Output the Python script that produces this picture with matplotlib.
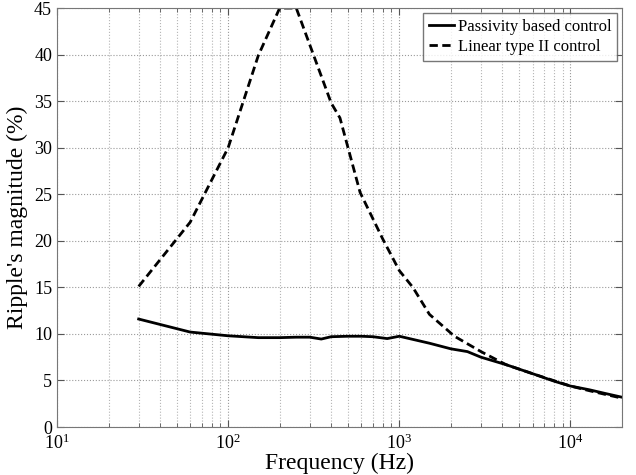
import numpy as np
import matplotlib.pyplot as plt
from matplotlib.ticker import LogLocator, NullFormatter

# Frequency (Hz) and ripple magnitude (%)
freq_pbc = [30, 60, 100, 150, 200, 250, 300, 350, 400, 500, 600, 700, 850, 1000,
            1500, 2000, 2500, 3000, 4200, 6300, 8100, 10000, 12900, 16000, 20000]
ripple_pbc = [11.6, 10.2, 9.8, 9.6, 9.6, 9.65, 9.65, 9.45, 9.7, 9.75, 9.75, 9.7, 9.5, 9.75,
              9.0, 8.4, 8.1, 7.5, 6.7, 5.6, 4.9, 4.4, 4.0, 3.6, 3.2]

freq_lin = [30, 60, 100, 150, 200, 250, 400, 450, 590, 800, 1000, 1200, 1500, 2100,
            3000, 4200, 6300, 8100, 10000, 12900, 16000, 20000]
ripple_lin = [15.1, 22.0, 30.0, 39.9, 45.0, 45.0, 34.8, 33.2, 25.2, 20.2, 16.8, 15.0, 12.1, 9.75,
              8.1, 6.7, 5.6, 4.95, 4.4, 3.9, 3.5, 3.1]

plt.rcParams['font.family'] = ['Liberation Serif', 'DejaVu Serif']

fig = plt.figure(figsize=(6.36, 4.75), dpi=100)
ax = fig.add_axes([0.0896, 0.101, 0.8884, 0.882])

ax.semilogx(freq_pbc, ripple_pbc, color='black', linewidth=2, label='Passivity based control')
ax.semilogx(freq_lin, ripple_lin, color='black', linewidth=2, linestyle=(0, (3, 1.6)),
            label='Linear type II control')

ax.set_xlim(10, 20000)
ax.set_ylim(0, 45)
ax.set_yticks(np.arange(0, 46, 5))
ax.xaxis.set_major_locator(LogLocator(base=10, numticks=10))
ax.xaxis.set_minor_locator(LogLocator(base=10, subs=np.arange(2, 10), numticks=20))
ax.xaxis.set_minor_formatter(NullFormatter())

ax.grid(True, which='major', linestyle=':', color='#9a9a9a', linewidth=0.8)
ax.grid(True, which='minor', axis='x', linestyle=':', color='#b5b5b5', linewidth=0.8)

ax.tick_params(which='both', direction='in', top=True, right=True, labelsize=13, colors='#555555',
               labelcolor='black')
ax.tick_params(which='major', length=5)
ax.tick_params(which='minor', length=3)
ax.tick_params(axis='x', which='major', pad=4.5)
for s in ax.spines.values():
    s.set_color('#777777')

ax.set_xlabel('Frequency (Hz)', fontsize=17, labelpad=0)
ax.set_ylabel("Ripple's magnitude (%)", fontsize=17, labelpad=4)

leg = ax.legend(loc='upper right', fontsize=12, frameon=True, fancybox=False, handlelength=1.5,
                handletextpad=0.2, borderpad=0.35, labelspacing=0.25, borderaxespad=0.3)
leg.get_frame().set_edgecolor('#555555')
leg.get_frame().set_linewidth(1.0)

fig.savefig('out.png', dpi=100)
